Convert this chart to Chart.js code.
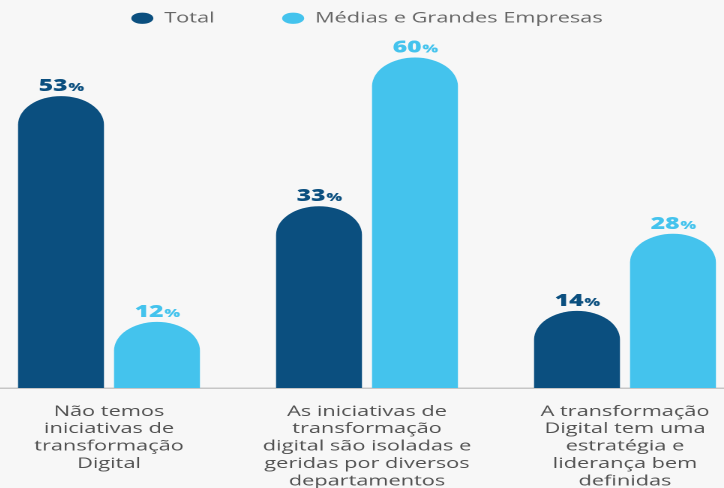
<!DOCTYPE html>
<html lang="pt">
<head>
<meta charset="utf-8">
<title>Transformação Digital</title>
<script src="https://cdn.jsdelivr.net/npm/chart.js@4"></script>
<style>
  html, body {
    margin: 0;
    width: 724px;
    height: 488px;
    overflow: hidden;
    background: #f7f7f7;
  }
  #wrap {
    position: relative;
    width: 724px;
    height: 488px;
    overflow: hidden;
  }
  /* the artwork is drawn narrow and then widened */
  #chart {
    position: absolute;
    left: -20px;
    top: 0;
    transform: scaleX(1.5);
    transform-origin: 0 0;
  }
</style>
</head>
<body>
<div id="wrap">
  <canvas id="chart" width="516" height="488"></canvas>
</div>
<script>
const categories = [
  ['Não temos', 'iniciativas de', 'transformação', 'Digital'],
  ['As iniciativas de', 'transformação', 'digital são isoladas e', 'geridas por diversos', 'departamentos'],
  ['A transformação', 'Digital tem uma', 'estratégia e', 'liderança bem', 'definidas']
];
const seriesNames = ['Total', 'Médias e Grandes Empresas'];
const totalValues = [53, 33, 14];
const empresasValues = [12, 60, 28];

const DARK = '#0b4f7f';
const LIGHT = '#44c3ed';
const FONT = "'Open Sans', 'DejaVu Sans', sans-serif";

// "53%" style labels: big number, small percent sign, same colour as the bar
const valueLabels = {
  id: 'valueLabels',
  afterDatasetsDraw(chart) {
    const ctx = chart.ctx;
    ctx.save();
    ctx.textBaseline = 'alphabetic';
    chart.data.datasets.forEach((ds, i) => {
      const meta = chart.getDatasetMeta(i);
      meta.data.forEach((bar, j) => {
        const num = String(ds.data[j]);
        ctx.font = `800 16.5px ${FONT}`;
        const wNum = ctx.measureText(num).width;
        ctx.font = `800 11px ${FONT}`;
        const wPct = ctx.measureText('%').width;
        const x0 = bar.x - (wNum + wPct) / 2;
        const y = bar.y - 5;
        ctx.fillStyle = ds.backgroundColor;
        ctx.textAlign = 'left';
        ctx.font = `800 16.5px ${FONT}`;
        ctx.fillText(num, x0, y);
        ctx.font = `800 11px ${FONT}`;
        ctx.fillText('%', x0 + wNum + 0.5, y);
      });
    });
    ctx.restore();
  }
};

new Chart(document.getElementById('chart'), {
  type: 'bar',
  plugins: [valueLabels],
  data: {
    labels: categories,
    datasets: [{
      label: seriesNames[0],
      data: totalValues,
      backgroundColor: DARK,
      borderWidth: 0,
      borderRadius: 100,
      borderSkipped: 'start',
      categoryPercentage: 0.744,
      barPercentage: 0.895
    }, {
      label: seriesNames[1],
      data: empresasValues,
      backgroundColor: LIGHT,
      borderWidth: 0,
      borderRadius: 100,
      borderSkipped: 'start',
      categoryPercentage: 0.744,
      barPercentage: 0.895
    }]
  },
  options: {
    responsive: false,
    devicePixelRatio: 2,
    animation: false,
    layout: {
      padding: { top: -34, bottom: -17, left: 0, right: 0 }
    },
    plugins: {
      legend: {
        position: 'top',
        align: 'center',
        labels: {
          usePointStyle: true,
          pointStyle: 'circle',
          boxHeight: 8,
          pointStyleWidth: 14.7,
          padding: 45,
          color: '#666666',
          font: { family: FONT, size: 14.5 }
        }
      },
      tooltip: { enabled: false }
    },
    scales: {
      x: {
        grid: { display: false, drawTicks: false },
        border: { display: true, color: '#c6c6c6', width: 1.5 },
        ticks: {
          color: '#505050',
          padding: 15,
          maxRotation: 0,
          autoSkip: false,
          font: { family: FONT, size: 14.5, lineHeight: 1.2 }
        }
      },
      y: {
        display: false,
        min: 0,
        max: 64
      }
    }
  }
});
</script>
</body>
</html>
